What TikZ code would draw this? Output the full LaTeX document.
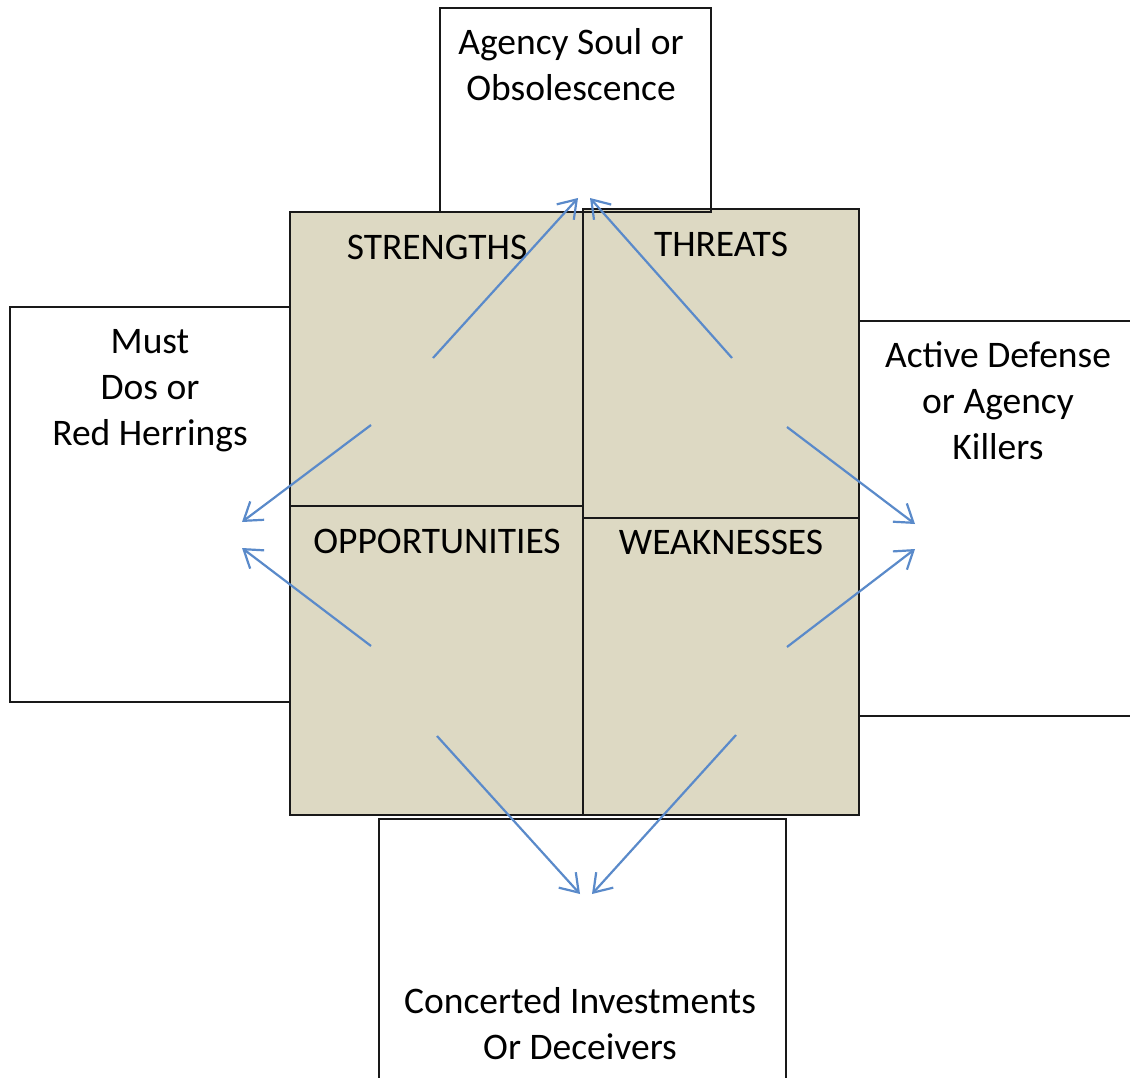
\documentclass[tikz,border=0pt]{standalone}
\usepackage{fontspec}
\setmainfont{Carlito}
\usetikzlibrary{arrows.meta}
\definecolor{quadfill}{HTML}{DDD9C3}
\definecolor{arrowblue}{HTML}{5A8ACA}
\begin{document}
\begin{tikzpicture}[x=1pt,y=-1pt,
  frame/.style={draw=black!90,line width=2.6pt},
  quad/.style={frame,fill=quadfill},
  txt/.style={inner sep=0pt,anchor=base,align=center,font=\fontsize{37.5}{46}\selectfont},
  flow/.style={draw=arrowblue,line width=2.2pt,-{Straight Barb[length=17pt,width=23pt]}}]
\fill[white] (0,0) rectangle (1130,1078);
\clip (0,0) rectangle (1130,1078);
\useasboundingbox (0,0) rectangle (1130,1078);

% the four quadrants of the matrix
\draw[quad] (290,212) rectangle (583,506);
\draw[quad] (583,209) rectangle (859,518);
\draw[quad] (290,506) rectangle (583,815);
\draw[quad] (583,518) rectangle (859,815);

% surrounding outcome boxes
\draw[frame] (440,8) rectangle (711,212);
\draw[frame] (10,307) rectangle (290,702);
\draw[frame] (859,321) rectangle (1140,716);
\draw[frame] (379,819) rectangle (786,1090);

% quadrant titles
\node[txt] (str) at (437,259) {STRENGTHS};
\node[txt] (thr) at (721,256) {THREATS};
\node[txt] (opp) at (437,553) {OPPORTUNITIES};
\node[txt] (weak) at (721,554) {WEAKNESSES};

% outcome labels (anchored on the baseline of the last line)
\node[txt] (soul) at (571,101) {Agency Soul or\\Obsolescence};
\node[txt] (must) at (150,445) {Must\\Dos or\\Red Herrings};
\node[txt] (defense) at (998,459) {Active Defense\\or Agency\\Killers};
\node[txt] (invest) at (580,1059) {Concerted Investments\\Or Deceivers};

% arrow end points
\coordinate (s0) at (433,358);  \coordinate (s1) at (578,198);
\coordinate (t0) at (732,358);  \coordinate (t1) at (590,198);
\coordinate (m0) at (371,425);  \coordinate (m1) at (242,522);
\coordinate (o0) at (371,646);  \coordinate (o1) at (242,548);
\coordinate (d0) at (787,427);  \coordinate (d1) at (915,524);
\coordinate (w0) at (787,647);  \coordinate (w1) at (915,549);
\coordinate (c0) at (437,736);  \coordinate (c1) at (580,894);
\coordinate (e0) at (736,735);  \coordinate (e1) at (592,894);

\draw[flow] (s0) -- (s1);
\draw[flow] (t0) -- (t1);
\draw[flow] (m0) -- (m1);
\draw[flow] (o0) -- (o1);
\draw[flow] (d0) -- (d1);
\draw[flow] (w0) -- (w1);
\draw[flow] (c0) -- (c1);
\draw[flow] (e0) -- (e1);
\end{tikzpicture}
\end{document}
